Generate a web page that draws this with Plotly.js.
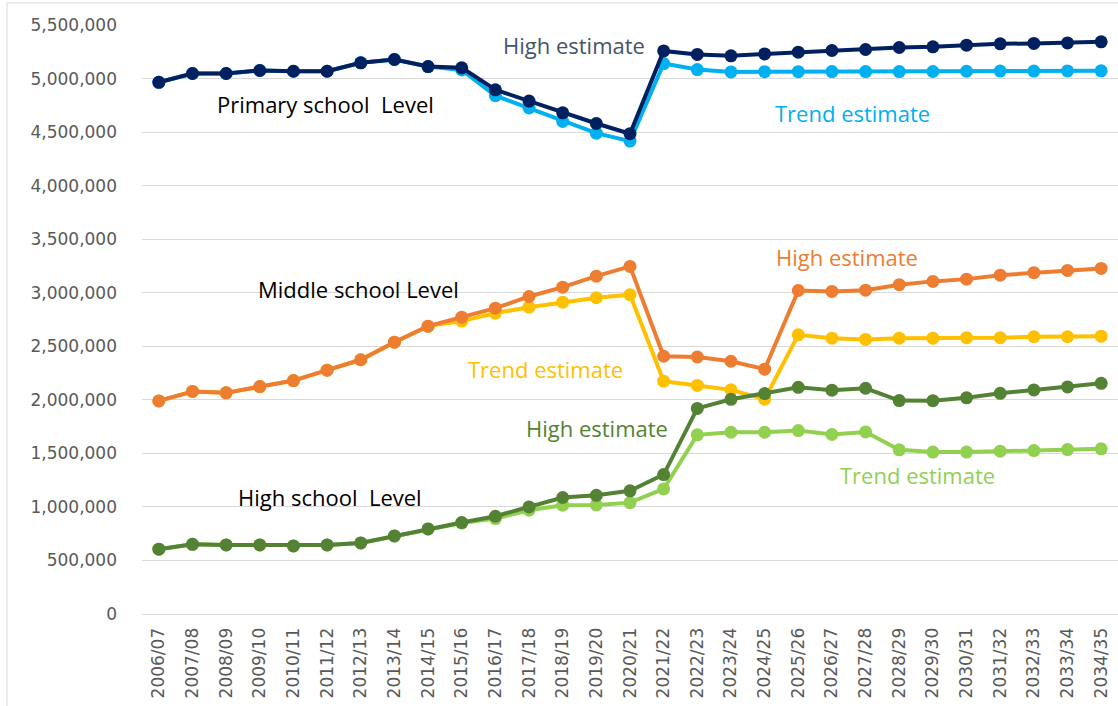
<!DOCTYPE html>
<html>
<head>
<meta charset="utf-8">
<script src="https://cdn.plot.ly/plotly-3.0.1.min.js"></script>
<style>html,body{margin:0;padding:0;background:#fff;}#chart{width:1118px;height:706px;}</style>
</head>
<body>
<div id="chart"></div>
<script>
const years = ["2006/07","2007/08","2008/09","2009/10","2010/11","2011/12","2012/13","2013/14","2014/15","2015/16",
"2016/17","2017/18","2018/19","2019/20","2020/21","2021/22","2022/23","2023/24","2024/25","2025/26",
"2026/27","2027/28","2028/29","2029/30","2030/31","2031/32","2032/33","2033/34","2034/35"];

const primaryHigh = [4965000,5047000,5047000,5075000,5068000,5068000,5147000,5178000,5112000,5100000,
4895000,4790000,4680000,4580000,4485000,5258000,5225000,5212000,5230000,5246000,
5262000,5271000,5290000,5296000,5312000,5324000,5328000,5333000,5343000];
const primaryTrend = [4965000,5047000,5047000,5075000,5068000,5068000,5147000,5178000,5112000,5080000,
4840000,4725000,4600000,4490000,4416000,5140000,5084000,5062000,5064000,5064000,
5065000,5065000,5065000,5066000,5068000,5070000,5070000,5071000,5072000];

const middleHigh = [1990000,2078000,2065000,2124000,2180000,2277000,2374000,2538000,2688000,2772000,
2856000,2965000,3052000,3155000,3246000,2407000,2400000,2360000,2286000,3021000,
3012000,3024000,3075000,3106000,3127000,3164000,3187000,3208000,3227000];
const middleTrend = [1990000,2078000,2065000,2124000,2180000,2277000,2374000,2538000,2688000,2735000,
2810000,2865000,2912000,2953000,2982000,2174000,2134000,2093000,2006000,2607000,
2576000,2564000,2576000,2576000,2580000,2580000,2589000,2589000,2594000];

const highHigh = [605000,651000,645000,645000,636000,645000,664000,729000,794000,854000,
913000,1000000,1088000,1108000,1150000,1302000,1920000,2005000,2058000,2117000,
2090000,2108000,1993000,1992000,2019000,2061000,2092000,2120000,2154000];
const highTrend = [605000,651000,645000,645000,636000,645000,664000,729000,794000,850000,
891000,969000,1016000,1018000,1040000,1168000,1673000,1697000,1697000,1713000,
1676000,1700000,1533000,1512000,1512000,1520000,1526000,1535000,1542000];

const labels = [
  {text:"High estimate", color:"#44546a", px:574, py:45},
  {text:"Primary school  Level", color:"#000000", px:325, py:104},
  {text:"Trend estimate", color:"#00b0f0", px:852, py:113},
  {text:"High estimate", color:"#ed7d31", px:847, py:257},
  {text:"Middle school Level", color:"#000000", px:358, py:289},
  {text:"Trend estimate", color:"#ffc000", px:545, py:369},
  {text:"High estimate", color:"#548235", px:597, py:428},
  {text:"High school  Level", color:"#000000", px:330, py:497},
  {text:"Trend estimate", color:"#92d050", px:917, py:475}
];

function series(y, color, name){
  return {x: years, y: y, type:"scatter", mode:"lines+markers", name: name,
    line:{color: color, width: 4}, marker:{color: color, size: 13}, hoverinfo:"x+y"};
}

const data = [
  series(primaryTrend, "#00b0f0", "Primary trend"),
  series(primaryHigh, "#002060", "Primary high"),
  series(middleTrend, "#ffc000", "Middle trend"),
  series(middleHigh, "#ed7d31", "Middle high"),
  series(highTrend, "#92d050", "High school trend"),
  series(highHigh, "#548235", "High school high")
];

const L = 142, R = 0, T = 25, B = 92, W = 1118, H = 706;
const pw = W - L - R, ph = H - T - B;

const annotations = labels.map(a => ({
  text: a.text, xref:"paper", yref:"paper",
  x: (a.px - L)/pw, y: (H - B - a.py)/ph,
  xanchor:"center", yanchor:"middle", showarrow:false,
  font:{family:"Open Sans, sans-serif", size:22, color:a.color}
}));

const layout = {
  width: W, height: H,
  margin:{l:L, r:R, t:T, b:B, pad:0},
  paper_bgcolor:"#ffffff", plot_bgcolor:"#ffffff",
  showlegend:false,
  separators:".,",
  font:{family:"DejaVu Sans, sans-serif", color:"#595959"},
  xaxis:{type:"category", range:[-0.5, 28.5], tickangle:-90, showgrid:false,
    showline:true, linecolor:"#d9d9d9", linewidth:1, ticks:"", zeroline:false,
    tickfont:{family:"DejaVu Sans, sans-serif", size:17, color:"#595959"}, ticklabelstandoff:6},
  yaxis:{range:[0, 5500000], dtick:500000, tick0:0, tickformat:",d", showgrid:true,
    gridcolor:"#d9d9d9", gridwidth:1, zeroline:false, showline:false, ticks:"",
    tickfont:{family:"DejaVu Sans, sans-serif", size:17, color:"#595959"}, ticklabelstandoff:24},
  annotations: annotations,
  shapes:[
    {type:"line", xref:"paper", yref:"paper", x0:(7-L)/pw, x1:(7-L)/pw, y0:(H-B-3)/ph, y1:(H-B-H)/ph,
     line:{color:"#d9d9d9", width:1}},
    {type:"line", xref:"paper", yref:"paper", x0:(7-L)/pw, x1:1, y0:(H-B-3)/ph, y1:(H-B-3)/ph,
     line:{color:"#d9d9d9", width:1}}
  ]
};

Plotly.newPlot("chart", data, layout, {displayModeBar:false, staticPlot:true});
</script>
</body>
</html>
